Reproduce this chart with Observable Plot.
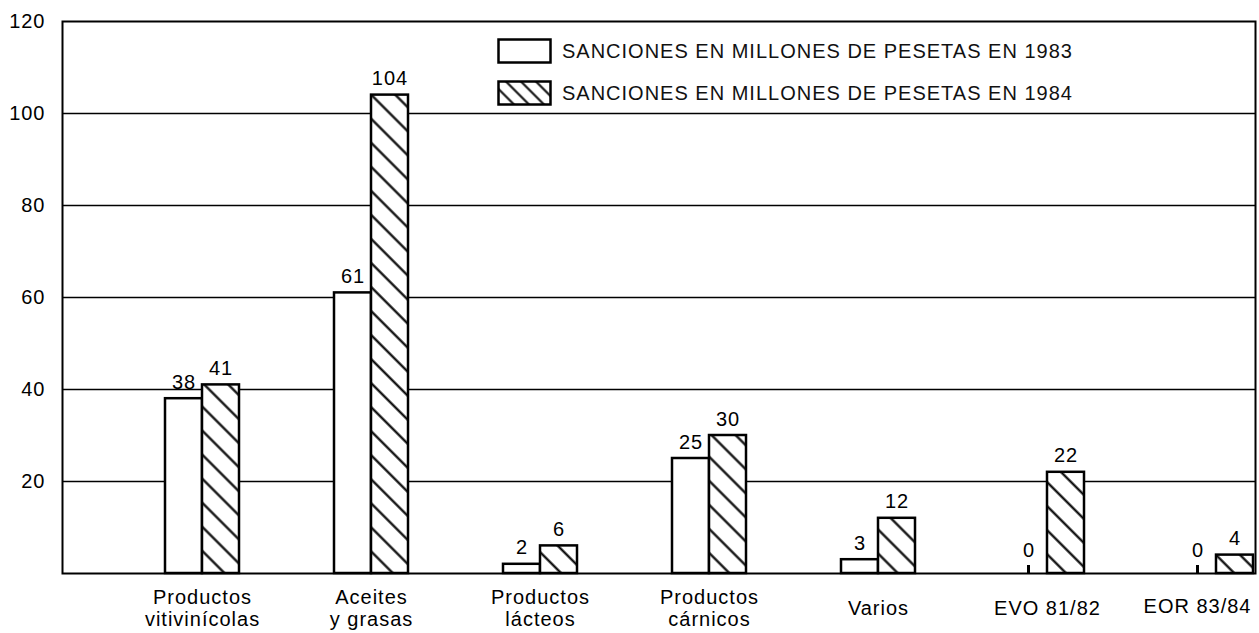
<!DOCTYPE html>
<html><head><meta charset="utf-8">
<script src="https://cdn.jsdelivr.net/npm/d3@7"></script>
<script src="https://cdn.jsdelivr.net/npm/@observablehq/plot@0.6"></script>
<style>
body{margin:0;background:#fff;}
#wrap{position:relative;width:1259px;height:633px;font-family:"Liberation Sans",Arial,sans-serif;}
#chart svg text{letter-spacing:1px;}
.lrow{position:absolute;left:497px;height:27px;display:flex;align-items:center;white-space:nowrap;}
.lrow svg{margin-right:9px;display:block;}
.lrow span{font-size:20px;letter-spacing:1px;color:#111;}
</style></head>
<body>
<svg width="0" height="0" style="position:absolute">
  <defs>
    <pattern id="hatchBars" patternUnits="userSpaceOnUse" width="17" height="17" patternTransform="rotate(-45)">
      <rect width="17" height="17" fill="white"/>
      <line x1="8.5" y1="0" x2="8.5" y2="17" stroke="black" stroke-width="2.2"/>
    </pattern>
    <pattern id="hatchLegend" patternUnits="userSpaceOnUse" width="10.6" height="10.6" patternTransform="rotate(-45)">
      <rect width="10.6" height="10.6" fill="white"/>
      <line x1="5.3" y1="0" x2="5.3" y2="10.6" stroke="black" stroke-width="2"/>
    </pattern>
  </defs>
</svg>
<div id="wrap"><div id="chart"></div><div id="legend"></div></div>
<script>
// ---- data ----
const categories = ["Productos vitivinícolas", "Aceites y grasas", "Productos lácteos", "Productos cárnicos", "Varios", "EVO 81/82", "EOR 83/84"];
const tickLabels = ["Productos\nvitivinícolas", "Aceites\ny grasas", "Productos\nlácteos", "Productos\ncárnicos", "Varios", "EVO 81/82", "EOR 83/84"];
const sanciones1983 = [38, 61, 2, 25, 3, 0, 0];
const sanciones1984 = [41, 104, 6, 30, 12, 22, 4];
const yTicks = [20, 40, 60, 80, 100, 120];
const gridValues = [20, 40, 60, 80, 100];
const seriesLabels = ["SANCIONES EN MILLONES DE PESETAS EN 1983", "SANCIONES EN MILLONES DE PESETAS EN 1984"];

// ---- tables ----
const rows83 = categories.map((c, i) => ({cat: c, value: sanciones1983[i]}));
const rows84 = categories.map((c, i) => ({cat: c, value: sanciones1984[i]}));
const nz83 = rows83.filter(d => d.value > 0);
const z83 = rows83.filter(d => d.value === 0);
const nz84 = rows84.filter(d => d.value > 0);
const idx = categories.map((c, i) => i);
const lastIdx = idx.slice(-1);
const otherIdx = idx.slice(0, -1);

const chart = Plot.plot({
  width: 1259,
  height: 633,
  marginLeft: 62,
  marginRight: 4,
  marginTop: 21,
  marginBottom: 60,
  style: {fontFamily: '"Liberation Sans", Arial, sans-serif', fontSize: "20px", color: "black", background: "white"},
  x: {type: "band", domain: categories, range: [163, 1255], paddingInner: 0.564, paddingOuter: 0, axis: null},
  y: {domain: [0, 120], axis: null},
  marks: [
    Plot.ruleY(gridValues, {stroke: "black", strokeWidth: 1.6}),
    Plot.barY(nz83, {x: "cat", y: "value", fill: "white", stroke: "black", strokeWidth: 2.5, insetRight: 37}),
    Plot.barY(nz84, {x: "cat", y: "value", fill: "url(#hatchBars)", stroke: "black", strokeWidth: 2.5, insetLeft: 37}),
    Plot.barY(z83, {x: "cat", y1: 0, y2: 0, insetTop: -8, insetLeft: 17, insetRight: 54, fill: "black"}),
    Plot.text(nz83, {x: "cat", y: "value", text: d => String(d.value), dx: -18.5, dy: -10, lineAnchor: "bottom", fill: "black"}),
    Plot.text(nz84, {x: "cat", y: "value", text: d => String(d.value), dx: 18.5, dy: -10, lineAnchor: "bottom", fill: "black"}),
    Plot.text(z83, {x: "cat", y: "value", text: d => String(d.value), dx: -18.5, dy: -17, lineAnchor: "bottom", fill: "black"}),
    Plot.text(otherIdx, {x: i => categories[i], text: i => tickLabels[i], frameAnchor: "bottom", dy: 34, lineAnchor: "middle", lineHeight: 1.1, fill: "black"}),
    Plot.text(lastIdx, {x: i => categories[i], text: i => tickLabels[i], frameAnchor: "bottom", dy: 33, dx: 35, textAnchor: "end", lineAnchor: "middle", fill: "black"}),
    Plot.text(yTicks, {y: d => d, text: d => String(d), frameAnchor: "left", textAnchor: "end", dx: -17, fill: "black"}),
    Plot.frame({stroke: "black", strokeWidth: 2})
  ]
});
document.getElementById("chart").appendChild(chart);

// ---- legend (overlaid inside the plot area) ----
const legend = document.getElementById("legend");
const fills = ["white", "url(#hatchLegend)"];
const tops = [38, 80];
seriesLabels.forEach((lab, i) => {
  const row = document.createElement("div");
  row.className = "lrow";
  row.style.top = tops[i] + "px";
  row.innerHTML = `<svg width="56" height="27"><rect x="1.5" y="1.5" width="52" height="23" fill="${fills[i]}" stroke="black" stroke-width="2.5"/></svg><span>${lab}</span>`;
  legend.appendChild(row);
});
</script>
</body></html>
